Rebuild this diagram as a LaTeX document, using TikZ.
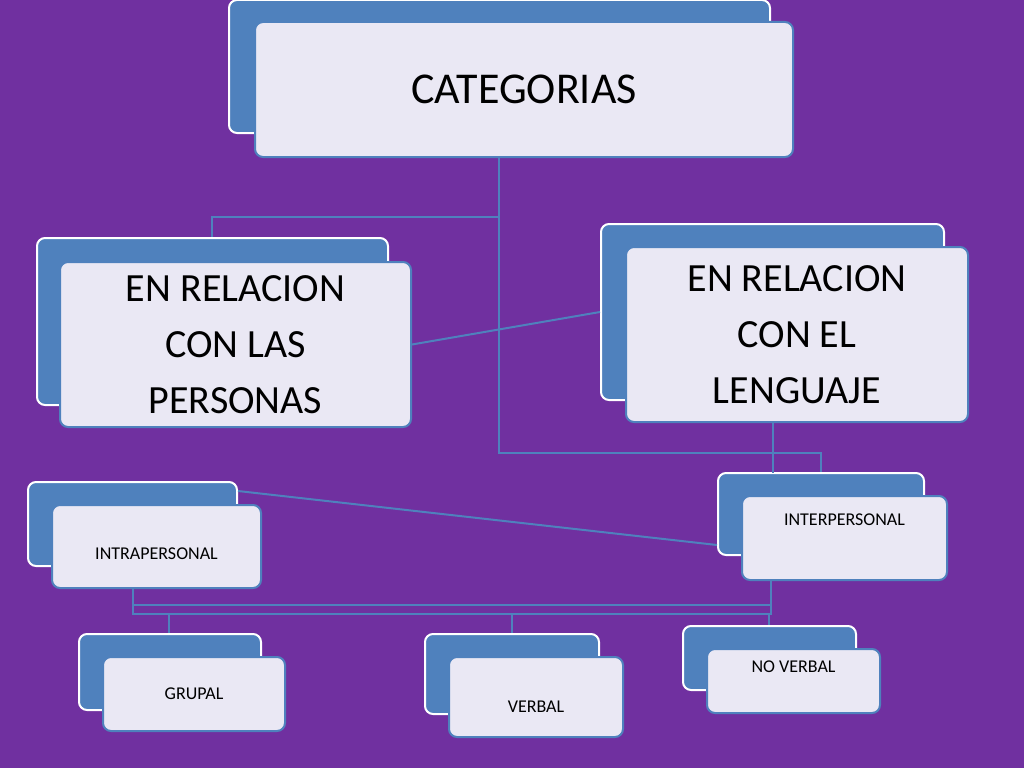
\documentclass[tikz,border=0pt]{standalone}
\usepackage{fontspec}
\setmainfont{Carlito}
\definecolor{purplebg}{RGB}{112,48,160}
\definecolor{boxblue}{RGB}{79,129,189}
\definecolor{boxface}{RGB}{234,232,244}
\tikzset{every node/.style={align=center},
  backbox/.style={draw=white, line width=2pt, fill=boxblue, rounded corners=8pt},
  frontbox/.style={draw=boxblue, line width=2pt, fill=boxface, rounded corners=8pt,
    inner sep=0pt, text=black},
  link/.style={draw=boxblue, line width=2pt}}
\begin{document}
\begin{tikzpicture}[x=1pt, y=-1pt]
  \fill[purplebg] (0,0) rectangle (1024,768);
  \useasboundingbox (0,0) rectangle (1024,768);

  % links
  \coordinate (hub) at (499,217);
  \coordinate (low) at (499,453);
  \coordinate (busl) at (133,614);
  \coordinate (busr) at (771,614);

  % top level
  \node [backbox, minimum width=541pt, minimum height=133pt] (catb) at (499.5,66.5) {};
  \node [frontbox, minimum width=538pt, minimum height=135pt, font=\fontsize{44}{50}\selectfont] (cat) at (524,89.5) {CATEGORIAS};

  \draw [link] (cat.south -| hub) -- (hub) -- (212,217) -- (212,238);
  \draw [link] (hub) -- (low) -- (821,453) -- (821,473);

  % second level
  \node [backbox, minimum width=351pt, minimum height=167pt] (persb) at (212.5,321.5) {};
  \node [frontbox, minimum width=351pt, minimum height=165pt, font=\fontsize{40}{56}\selectfont] (pers) at (235.5,344.5) {EN RELACION\\ CON LAS\\ PERSONAS};

  \node [backbox, minimum width=343pt, minimum height=176pt] (lengb) at (772.5,312) {};
  \node [frontbox, minimum width=342pt, minimum height=175pt, font=\fontsize{40}{56}\selectfont] (leng) at (797,334.5) {EN RELACION\\ CON EL\\ LENGUAJE};

  \draw [link] (pers.east) -- (lengb.west);

  % third level
  \node [backbox, minimum width=209pt, minimum height=84pt] (intrab) at (132.5,524) {};
  \node [frontbox, minimum width=209pt, minimum height=83pt, font=\fontsize{18}{22}\selectfont] (intra) at (156.5,546.5) {\\[4pt]INTRAPERSONAL};

  \node [backbox, minimum width=206pt, minimum height=82pt] (interb) at (821,514) {};
  \node [frontbox, minimum width=205pt, minimum height=84pt, font=\fontsize{18}{22}\selectfont] (inter) at (844.5,538) {INTERPERSONAL\\[14pt]};

  \draw [link] (leng.south -| 773,0) -- (773,473);
  \draw [link] (intrab.north east) ++(0,10) -- (interb.west |- 0,545);

  % fourth level
  \node [backbox, minimum width=182pt, minimum height=76pt] (grupb) at (170,672) {};
  \node [frontbox, minimum width=182pt, minimum height=74pt, font=\fontsize{18}{22}\selectfont] (grup) at (194,694) {GRUPAL};

  \node [backbox, minimum width=174pt, minimum height=80pt] (verbb) at (512,674) {};
  \node [frontbox, minimum width=174pt, minimum height=80pt, font=\fontsize{18}{22}\selectfont] (verb) at (536,697) {\\[8pt]VERBAL};

  \node [backbox, minimum width=173pt, minimum height=64pt] (noverbb) at (769.5,658) {};
  \node [frontbox, minimum width=173pt, minimum height=64pt, font=\fontsize{18}{22}\selectfont] (noverb) at (793.5,681) {NO VERBAL\\[6pt]};

  \draw [link] (intra.south -| busl) -- (busl) -- (busr) -- (inter.south -| busr);
  \draw [link] (133,605) -- (771,605);
  \draw [link] (169,614) -- (grupb.north -| 169,0);
  \draw [link] (512,614) -- (verbb.north);
  \draw [link] (769,614) -- (noverbb.north -| 769,0);
\end{tikzpicture}
\end{document}
